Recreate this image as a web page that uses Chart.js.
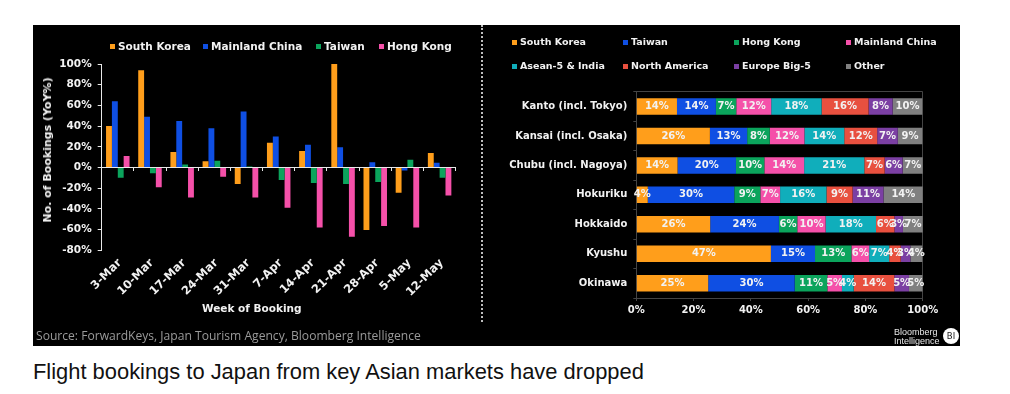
<!DOCTYPE html>
<html><head><meta charset="utf-8">
<script src="https://cdn.jsdelivr.net/npm/chart.js@4"></script>
<style>
html,body{margin:0;padding:0;background:#fff;width:1010px;height:394px;overflow:hidden}
#panel{position:absolute;left:33px;top:25px;width:927px;height:321px;background:#000}
canvas{position:absolute}
.t{position:absolute;white-space:nowrap;font-family:"DejaVu Sans",sans-serif;font-weight:bold;color:#f2f2f2;line-height:12px}
.sq{position:absolute;width:5px;height:5px}
#sep{position:absolute;left:481px;top:25px;height:297px;width:0;border-left:2px dotted #bdbdbd}
</style></head><body>
<div id="panel"></div>
<canvas id="c1" width="447" height="321" style="left:33px;top:25px"></canvas>
<canvas id="c2" width="478" height="321" style="left:482px;top:25px"></canvas>
<div id="sep"></div>
<div id="over"></div>
<script>
const weeks=["3-Mar","10-Mar","17-Mar","24-Mar","31-Mar","7-Apr","14-Apr","21-Apr","28-Apr","5-May","12-May"];
const yoyNames=["South Korea","Mainland China","Taiwan","Hong Kong"];
const yoySouthKorea=[40,94,15,6,-16,24,16,100,-60.5,-24.5,14];
const yoyMainlandChina=[64,49,45,38,54,30,22,19.5,5,-3,4.5];
const yoyTaiwan=[-10,-5.5,3,6.5,1,-12,-15,-16,-14,7.5,-10];
const yoyHongKong=[11,-19,-29,-9,-29,-39,-58,-67,-56.5,-58,-27];
const regions=["Kanto (incl. Tokyo)","Kansai (incl. Osaka)","Chubu (incl. Nagoya)","Hokuriku","Hokkaido","Kyushu","Okinawa"];
const shareNames=["South Korea","Taiwan","Hong Kong","Mainland China","Asean-5 & India","North America","Europe Big-5","Other"];
const shareSouthKorea=[14.2,25.7,14.4,4,25.8,47,25.1];
const shareTaiwan=[13.6,13,20.4,30.2,24,15.4,30.2];
const shareHongKong=[7.1,7.9,9.9,9.1,6.4,12.7,11.4];
const shareMainlandChina=[12.2,12.1,13.9,6.9,9.9,6.2,5.1];
const shareAsean=[17.6,13.9,21,16.2,17.6,7,4.1];
const shareNorthAmerica=[16.4,11.5,7.1,9.1,6.4,4,14.2];
const shareEurope=[8.4,7.2,6.3,10.8,3,3.4,5.1];
const shareOther=[10.4,8.6,7.1,13.9,7,4.2,4.8];
const colors=["#FF9E1B","#0F4FE3","#0BA45C","#F550A9","#10AEBB","#E8503F","#7B3FA3","#808080"];
const yoyColors=[colors[0],colors[1],colors[2],colors[3]];
const FONT="'DejaVu Sans', sans-serif";
const white="#f2f2f2";
Chart.defaults.animation=false;
Chart.defaults.font.family=FONT;

const yoyValues=[yoySouthKorea,yoyMainlandChina,yoyTaiwan,yoyHongKong];
new Chart(document.getElementById('c1'),{type:'bar',
 data:{labels:weeks,datasets:yoyNames.map((n,i)=>({label:n,data:yoyValues[i],backgroundColor:yoyColors[i],xAxisID:'x',yAxisID:'y',categoryPercentage:0.73,barPercentage:1}))},
 options:{responsive:false,devicePixelRatio:1,layout:{padding:{top:39,right:24.3,left:0,bottom:0}},
  plugins:{legend:{display:false},tooltip:{enabled:false}},
  scales:{
   x:{position:'bottom',offset:true,afterFit:s=>{s.height=95.7},border:{display:false},grid:{display:false},
      ticks:{color:white,font:{size:11.5,weight:'bold'},minRotation:45,maxRotation:45,padding:-2,labelOffset:2,autoSkip:false}},
   x2:{axis:'x',type:'category',labels:weeks,position:{y:0},offset:true,border:{color:'#e8e8e8',width:1},
      grid:{offset:true,drawOnChartArea:false,drawTicks:true,tickLength:3,color:'#e8e8e8'},ticks:{display:false}},
   y:{min:-80,max:100,afterFit:s=>{s.width=68.7},border:{color:'#e8e8e8'},grid:{drawOnChartArea:false,tickLength:4,color:'#e8e8e8'},
      ticks:{stepSize:20,color:white,font:{size:10.5,weight:'bold'},padding:6,callback:v=>v+'%'}}
  }}});

const shareValues=[shareSouthKorea,shareTaiwan,shareHongKong,shareMainlandChina,shareAsean,shareNorthAmerica,shareEurope,shareOther];
const segLabels={id:'segLabels',afterDatasetsDraw(ch){const c=ch.ctx;c.save();c.font="bold 10px "+FONT;c.fillStyle=white;c.textAlign='center';c.textBaseline='middle';
 ch.data.datasets.forEach((d,i)=>{ch.getDatasetMeta(i).data.forEach((el,j)=>{c.fillText(Math.round(d.data[j])+'%',(el.x+el.base)/2,el.y)})});c.restore();}};
new Chart(document.getElementById('c2'),{type:'bar',plugins:[segLabels],
 data:{labels:regions,datasets:shareNames.map((n,i)=>({label:n,data:shareValues[i],backgroundColor:colors[i],categoryPercentage:0.56,barPercentage:1}))},
 options:{indexAxis:'y',responsive:false,devicePixelRatio:1,layout:{padding:{top:66.7,right:37.3,left:0,bottom:0}},
  plugins:{legend:{display:false},tooltip:{enabled:false}},
  scales:{
   x:{stacked:true,min:0,max:100,afterFit:s=>{s.height=48},border:{color:'#444'},
      grid:{drawOnChartArea:true,tickLength:3,color:c=>c.tick&&c.tick.value===100?'#444':'rgba(0,0,0,0)',tickColor:'#444'},
      ticks:{stepSize:20,color:white,font:{size:10,weight:'bold'},padding:3,maxRotation:0,callback:v=>v+'%'}},
   y:{stacked:true,afterFit:s=>{s.width=154.3},border:{color:'#444'},
      grid:{offset:true,tickLength:3,color:c=>c.index===0?'#444':'rgba(0,0,0,0)',tickColor:'#444'},
      ticks:{color:white,font:{size:10,weight:'bold'},padding:6,autoSkip:false}}
  }}});

const over=document.getElementById('over');
function text(s,x,y,size,extra){const d=document.createElement('div');d.className='t';d.textContent=s;d.style.left=x+'px';d.style.top=(y-6)+'px';d.style.fontSize=size+'px';if(extra)Object.assign(d.style,extra);over.appendChild(d);return d;}
function sq(x,y,c){const d=document.createElement('div');d.className='sq';d.style.left=x+'px';d.style.top=(y-2.5)+'px';d.style.background=c;over.appendChild(d);}
const leftLegendX=[110,203,316,379];
yoyNames.forEach((n,i)=>{sq(leftLegendX[i],46,yoyColors[i]);text(n,leftLegendX[i]+8,46,10.5);});
const rightLegendX=[512,623,734,846];
shareNames.forEach((n,i)=>{const x=rightLegendX[i%4],y=i<4?42:66;sq(x,y,colors[i]);text(n,x+8,y,9.5);});
text("Week of Booking",202,308,10.5);
text("No. of Bookings (YoY%)",48,150,11,{transform:'translate(-50%,0) rotate(-90deg)'});
text("Source: ForwardKeys, Japan Tourism Agency, Bloomberg Intelligence",36,335.5,12.1,{fontWeight:'normal',color:'#9a9a9a',fontFamily:"'Open Sans',sans-serif"});
text("Bloomberg",894,332,9,{fontWeight:'normal',color:'#e8e8e8',fontFamily:"'Liberation Sans',sans-serif"});
text("Intelligence",894,341,9,{fontWeight:'normal',color:'#e8e8e8',fontFamily:"'Liberation Sans',sans-serif"});
text("BI",943,336,8.5,{width:'16px',height:'16px',lineHeight:'16px',top:'328px',textAlign:'center',background:'#fff',color:'#222',borderRadius:'50%',fontWeight:'normal'});
text("Flight bookings to Japan from key Asian markets have dropped",33,372,21.9,{fontWeight:'normal',color:'#111',fontFamily:"'Liberation Sans',sans-serif",lineHeight:'12px'});
</script>
</body></html>
